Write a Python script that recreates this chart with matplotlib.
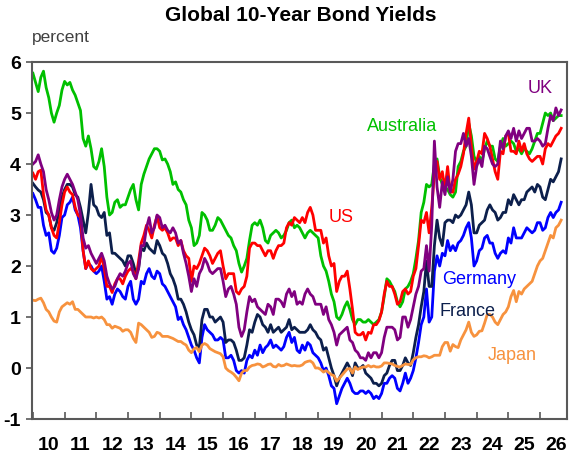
import numpy as np
import matplotlib
matplotlib.use('Agg')
import matplotlib.pyplot as plt

plt.rcParams['font.family'] = ['Liberation Sans', 'DejaVu Sans']

# monthly 10-year yields (percent), Jan 2010 onwards
australia = [
	5.78, 5.6, 5.42, 5.7, 5.82, 5.5, 5.3, 5.0, 4.82, 5.0, 5.15, 5.45,
	5.62, 5.55, 5.6, 5.45, 5.35, 5.2, 5.05, 4.5, 4.35, 4.55, 4.3, 3.95,
	3.9, 4.05, 4.3, 3.95, 3.35, 3.0, 3.05, 3.25, 3.3, 3.15, 3.2, 3.2,
	3.35, 3.5, 3.6, 3.3, 3.1, 3.6, 3.8, 3.95, 4.1, 4.2, 4.3, 4.3,
	4.25, 4.08, 4.1, 4.0, 3.85, 3.6, 3.65, 3.5, 3.45, 3.3, 3.2, 2.9,
	2.75, 2.4, 2.45, 2.6, 3.05, 3.0, 2.9, 2.7, 2.7, 2.8, 2.95, 2.9,
	2.8, 2.7, 2.6, 2.55, 2.4, 2.3, 2.05, 1.88, 2.0, 2.15, 2.5, 2.8,
	2.85, 2.8, 2.9, 2.75, 2.5, 2.45, 2.6, 2.65, 2.7, 2.65, 2.55, 2.6,
	2.7, 2.85, 2.9, 2.75, 2.8, 2.75, 2.65, 2.55, 2.65, 2.7, 2.65, 2.6,
	2.55, 2.2, 2.0, 1.9, 1.7, 1.45, 1.3, 1.0, 0.95, 1.05, 1.2, 1.3,
	1.15, 0.95, 0.85, 0.95, 0.95, 0.9, 0.9, 0.95, 0.9, 0.85, 0.9, 0.95,
	1.1, 1.4, 1.75, 1.7, 1.6, 1.5, 1.3, 1.2, 1.3, 1.55, 1.6, 1.7,
	1.85, 2.15, 2.5, 3.05, 3.25, 3.6, 3.55, 3.6, 4.0, 4.1, 3.75, 3.6,
	3.55, 3.5, 3.4, 3.35, 3.45, 3.95, 4.05, 4.25, 4.35, 4.8, 4.55, 4.15,
	4.05, 4.15, 4.05, 4.3, 4.45, 4.35, 4.35, 4.1, 4.05, 4.35, 4.5, 4.35,
	4.4, 4.45, 4.4, 4.25, 4.3, 4.2, 4.3, 4.25, 4.2, 4.3, 4.45, 4.6,
	4.6, 4.8, 5.0, 4.95, 5.0, 4.85, 4.9, 4.95, 4.95]

us = [
	3.82, 3.7, 3.85, 3.88, 3.4, 3.1, 3.0, 2.75, 2.6, 2.55, 2.85, 3.2,
	3.45, 3.55, 3.45, 3.4, 3.15, 3.0, 2.95, 2.3, 1.95, 2.1, 1.95, 1.9,
	1.95, 2.0, 2.2, 1.95, 1.6, 1.6, 1.48, 1.65, 1.75, 1.75, 1.65, 1.8,
	1.9, 1.95, 1.9, 1.75, 2.1, 2.45, 2.6, 2.8, 2.7, 2.55, 2.8, 2.98,
	2.75, 2.7, 2.75, 2.65, 2.5, 2.55, 2.55, 2.4, 2.5, 2.3, 2.2, 2.15,
	1.7, 2.0, 1.95, 2.05, 2.2, 2.35, 2.3, 2.2, 2.05, 2.15, 2.25, 2.3,
	2.0, 1.75, 1.85, 1.85, 1.85, 1.5, 1.45, 1.55, 1.6, 1.8, 2.35, 2.45,
	2.45, 2.4, 2.4, 2.3, 2.2, 2.3, 2.3, 2.15, 2.3, 2.4, 2.4, 2.45,
	2.75, 2.85, 2.8, 2.95, 2.9, 2.85, 2.95, 2.85, 3.05, 3.15, 3.0, 2.7,
	2.7, 2.7, 2.45, 2.55, 2.2, 2.0, 2.05, 1.5, 1.7, 1.8, 1.8, 1.9,
	1.55, 1.15, 0.7, 0.65, 0.65, 0.7, 0.55, 0.7, 0.68, 0.85, 0.85, 0.93,
	1.1, 1.45, 1.7, 1.6, 1.6, 1.45, 1.25, 1.3, 1.5, 1.55, 1.45, 1.5,
	1.8, 1.95, 2.4, 2.9, 2.85, 3.05, 2.65, 3.15, 3.8, 4.05, 3.7, 3.85,
	3.5, 3.95, 3.45, 3.45, 3.7, 3.8, 3.95, 4.2, 4.6, 4.9, 4.35, 3.9,
	4.05, 4.25, 4.2, 4.6, 4.5, 4.35, 4.1, 3.85, 3.7, 4.25, 4.2, 4.55,
	4.6, 4.25, 4.25, 4.2, 4.45, 4.25, 4.4, 4.2, 4.1, 4.05, 4.1, 4.15,
	4.15, 4.0, 4.3, 4.4, 4.35, 4.45, 4.55, 4.6, 4.7]

uk = [
	4.0, 4.05, 4.18, 4.0, 3.85, 3.5, 3.3, 3.05, 2.9, 3.0, 3.3, 3.55,
	3.7, 3.8, 3.7, 3.6, 3.45, 3.3, 3.0, 2.55, 2.35, 2.4, 2.25, 2.15,
	2.05, 2.15, 2.25, 2.1, 1.8, 1.65, 1.55, 1.6, 1.75, 1.85, 1.8, 1.9,
	2.05, 2.1, 1.85, 1.75, 1.95, 2.4, 2.4, 2.75, 2.95, 2.65, 2.75, 3.0,
	2.95, 2.75, 2.8, 2.7, 2.65, 2.75, 2.65, 2.45, 2.5, 2.25, 2.05, 1.8,
	1.5, 1.75, 1.6, 1.85, 1.95, 2.15, 2.05, 1.9, 1.85, 1.9, 1.95, 1.95,
	1.7, 1.4, 1.55, 1.6, 1.45, 1.25, 0.8, 0.62, 0.75, 1.1, 1.4, 1.3,
	1.35, 1.2, 1.15, 1.1, 1.05, 1.25, 1.2, 1.05, 1.35, 1.35, 1.3, 1.2,
	1.45, 1.55, 1.4, 1.5, 1.25, 1.3, 1.25, 1.45, 1.55, 1.45, 1.4, 1.25,
	1.25, 1.25, 1.05, 1.2, 0.95, 0.85, 0.7, 0.45, 0.65, 0.7, 0.75, 0.8,
	0.55, 0.5, 0.35, 0.3, 0.2, 0.2, 0.15, 0.3, 0.2, 0.3, 0.3, 0.2,
	0.3, 0.6, 0.8, 0.8, 0.8, 0.75, 0.55, 0.6, 1.0, 1.0, 0.8, 0.95,
	1.2, 1.45, 1.6, 1.9, 1.95, 2.4, 1.9, 2.8, 4.45, 3.55, 3.15, 3.65,
	3.4, 3.75, 3.45, 3.7, 4.25, 4.4, 4.4, 4.6, 4.35, 4.5, 4.15, 3.6,
	3.95, 4.1, 3.95, 4.35, 4.3, 4.15, 4.0, 3.95, 4.0, 4.45, 4.3, 4.55,
	4.65, 4.5, 4.7, 4.45, 4.65, 4.5, 4.6, 4.7, 4.7, 4.45, 4.45, 4.5,
	4.45, 4.35, 4.4, 4.7, 4.95, 4.85, 5.1, 4.95, 5.06]

france = [
	3.62, 3.55, 3.49, 3.45, 3.3, 3.05, 3.0, 2.75, 2.7, 2.85, 3.1, 3.35,
	3.5, 3.6, 3.6, 3.55, 3.4, 3.35, 3.15, 2.9, 2.65, 3.05, 3.6, 3.2,
	3.15, 3.0, 2.95, 3.05, 2.6, 2.65, 2.25, 2.25, 2.2, 2.15, 2.1, 2.0,
	2.2, 2.2, 2.05, 1.85, 1.95, 2.35, 2.3, 2.45, 2.35, 2.3, 2.25, 2.5,
	2.4, 2.25, 2.2, 2.05, 1.85, 1.75, 1.6, 1.35, 1.35, 1.25, 1.1, 0.9,
	0.75, 0.65, 0.45, 0.4, 0.95, 1.15, 1.15, 1.0, 1.0, 0.9, 0.95, 1.0,
	0.9, 0.5, 0.55, 0.55, 0.5, 0.35, 0.15, 0.15, 0.2, 0.45, 0.75, 0.7,
	0.9, 1.05, 1.0, 0.85, 0.8, 0.7, 0.85, 0.7, 0.75, 0.8, 0.7, 0.75,
	0.8, 0.95, 0.75, 0.8, 0.75, 0.7, 0.7, 0.7, 0.75, 0.85, 0.75, 0.7,
	0.6, 0.55, 0.35, 0.4, 0.2, 0.0, -0.15, -0.35, -0.2, -0.1, 0.0, 0.1,
	0.0, -0.15, 0.1, 0.0, 0.0, 0.05, -0.1, -0.15, -0.2, -0.3, -0.3, -0.35,
	-0.3, -0.15, -0.1, 0.05, 0.15, 0.15, -0.05, -0.05, 0.05, 0.2, 0.1, 0.05,
	0.3, 0.6, 0.85, 1.2, 1.5, 2.1, 1.6, 1.6, 2.4, 2.9, 2.55, 2.4,
	2.85, 2.9, 2.9, 2.85, 3.0, 2.95, 3.0, 3.1, 3.2, 3.45, 3.2, 2.65,
	2.65, 2.8, 2.85, 2.9, 3.1, 3.2, 3.1, 3.05, 2.9, 2.95, 3.05, 3.05,
	3.3, 3.2, 3.4, 3.3, 3.2, 3.3, 3.3, 3.45, 3.5, 3.55, 3.45, 3.6,
	3.55, 3.35, 3.3, 3.5, 3.7, 3.65, 3.75, 3.85, 4.1]

germany = [
	3.42, 3.3, 3.15, 3.15, 2.8, 2.6, 2.65, 2.3, 2.25, 2.35, 2.6, 2.95,
	3.0, 3.2, 3.25, 3.35, 3.1, 3.0, 2.75, 2.3, 1.95, 2.05, 2.0, 1.9,
	1.85, 1.9, 2.0, 1.7, 1.35, 1.4, 1.25, 1.45, 1.55, 1.5, 1.4, 1.35,
	1.6, 1.7, 1.35, 1.25, 1.35, 1.7, 1.65, 1.85, 1.95, 1.8, 1.75, 1.9,
	1.85, 1.65, 1.6, 1.5, 1.4, 1.3, 1.2, 0.95, 1.0, 0.85, 0.75, 0.6,
	0.45, 0.35, 0.2, 0.1, 0.6, 0.85, 0.75, 0.7, 0.65, 0.55, 0.55, 0.6,
	0.55, 0.2, 0.2, 0.25, 0.15, -0.05, -0.1, -0.05, -0.1, 0.15, 0.25, 0.2,
	0.35, 0.25, 0.45, 0.3, 0.4, 0.45, 0.55, 0.4, 0.45, 0.4, 0.35, 0.42,
	0.6, 0.7, 0.5, 0.6, 0.35, 0.3, 0.45, 0.35, 0.5, 0.45, 0.3, 0.25,
	0.2, 0.1, -0.05, 0.0, -0.15, -0.35, -0.4, -0.7, -0.55, -0.4, -0.3, -0.2,
	-0.3, -0.45, -0.5, -0.5, -0.45, -0.45, -0.5, -0.45, -0.5, -0.6, -0.55, -0.6,
	-0.5, -0.3, -0.3, -0.2, -0.15, -0.2, -0.4, -0.45, -0.3, -0.1, -0.3, -0.2,
	-0.05, 0.2, 0.5, 0.85, 1.0, 1.55, 0.9, 1.0, 1.9, 2.2, 2.0, 2.25,
	2.2, 2.5, 2.3, 2.4, 2.3, 2.45, 2.5, 2.6, 2.75, 2.85, 2.55, 2.0,
	2.1, 2.3, 2.35, 2.55, 2.6, 2.45, 2.45, 2.25, 2.15, 2.25, 2.3, 2.25,
	2.55, 2.45, 2.75, 2.55, 2.55, 2.55, 2.65, 2.75, 2.7, 2.65, 2.7, 2.85,
	2.85, 2.7, 2.75, 2.95, 3.05, 2.95, 3.05, 3.1, 3.25]

japan = [
	1.33, 1.32, 1.35, 1.37, 1.28, 1.15, 1.1, 1.0, 0.92, 0.9, 1.1, 1.2,
	1.24, 1.28, 1.25, 1.3, 1.15, 1.15, 1.1, 1.05, 1.0, 1.0, 1.0, 0.98,
	1.0, 0.98, 1.0, 0.95, 0.85, 0.85, 0.78, 0.82, 0.8, 0.78, 0.72, 0.75,
	0.75, 0.7, 0.58, 0.5, 0.88, 0.85, 0.8, 0.75, 0.7, 0.6, 0.62, 0.7,
	0.68, 0.62, 0.62, 0.62, 0.6, 0.58, 0.55, 0.52, 0.52, 0.48, 0.45, 0.35,
	0.3, 0.38, 0.4, 0.32, 0.45, 0.48, 0.45, 0.38, 0.35, 0.32, 0.3, 0.28,
	0.22, 0.0, -0.05, -0.08, -0.12, -0.18, -0.25, -0.1, -0.05, -0.05, 0.02, 0.05,
	0.06, 0.08, 0.07, 0.02, 0.04, 0.07, 0.08, 0.03, 0.02, 0.07, 0.04, 0.05,
	0.08, 0.06, 0.04, 0.05, 0.04, 0.04, 0.06, 0.11, 0.13, 0.14, 0.1, 0.0,
	0.0, -0.03, -0.08, -0.05, -0.09, -0.13, -0.15, -0.26, -0.2, -0.14, -0.08, -0.02,
	-0.01, -0.1, 0.02, -0.03, 0.0, 0.02, 0.02, 0.05, 0.02, 0.04, 0.02, 0.02,
	0.04, 0.1, 0.1, 0.09, 0.08, 0.05, 0.03, 0.02, 0.05, 0.08, 0.07, 0.07,
	0.16, 0.2, 0.22, 0.22, 0.24, 0.23, 0.2, 0.22, 0.25, 0.25, 0.25, 0.42,
	0.5, 0.5, 0.33, 0.46, 0.42, 0.4, 0.55, 0.65, 0.75, 0.9, 0.7, 0.62,
	0.65, 0.72, 0.73, 0.88, 1.05, 1.05, 1.0, 0.9, 0.85, 0.95, 1.05, 1.1,
	1.2, 1.4, 1.52, 1.3, 1.5, 1.45, 1.55, 1.6, 1.65, 1.7, 1.85, 2.0,
	2.1, 2.15, 2.3, 2.45, 2.6, 2.55, 2.75, 2.8, 2.9]

series = [
	('Germany', germany, '#0000ff', 2024.07, 1.73),
	('France', france, '#0c1f4c', 2023.72, 1.10),
	('Australia', australia, '#00c000', 2021.64, 4.73),
	('US', us, '#ff0000', 2019.72, 2.96),
	('UK', uk, '#800080', 2026.0, 5.49),
	('Japan', japan, '#f7923e', 2025.11, 0.25),
]
year_labels = [str(y)[2:] for y in range(2010, 2027)]

fig = plt.figure(figsize=(5.73, 4.55), dpi=100)
ax = fig.add_axes([0.0558, 0.0791, 0.9337, 0.7846])

for name, vals, color, lx, ly in series:
	t = 2010 + np.arange(len(vals)) / 12.0
	ax.plot(t, vals, color=color, linewidth=2.0, solid_joinstyle='round')
	ax.text(lx, ly, name, color=color, fontsize=13, ha='center', va='center')

ax.set_xlim(2009.97, 2026.85)
ax.set_ylim(-1, 6)

ax.set_xticks(np.arange(2010, 2027))
ax.set_xticklabels([])
ax.set_xticks(np.arange(2010, 2027) + 0.5, minor=True)
ax.set_xticklabels(year_labels, minor=True, fontsize=14, fontweight='bold')
ax.tick_params(axis='x', which='major', direction='in', length=5, width=1.2, color='#595959')
ax.tick_params(axis='x', which='minor', length=0, pad=13)

ax.set_yticks(np.arange(-1, 7))
ax.set_yticklabels([str(v) for v in range(-1, 7)], fontsize=14, fontweight='bold')
ax.tick_params(axis='y', direction='out', length=4, width=1.2, color='#595959', pad=4)

for s in ax.spines.values():
	s.set_color('#595959')
	s.set_linewidth(1.5)

fig.text(0.524, 0.967, 'Global 10-Year Bond Yields', fontsize=15, fontweight='bold',
		 ha='center', va='center')
fig.text(0.056, 0.917, 'percent', fontsize=12.5, color='#404040', ha='left', va='center')

fig.savefig('out.png', dpi=100)
